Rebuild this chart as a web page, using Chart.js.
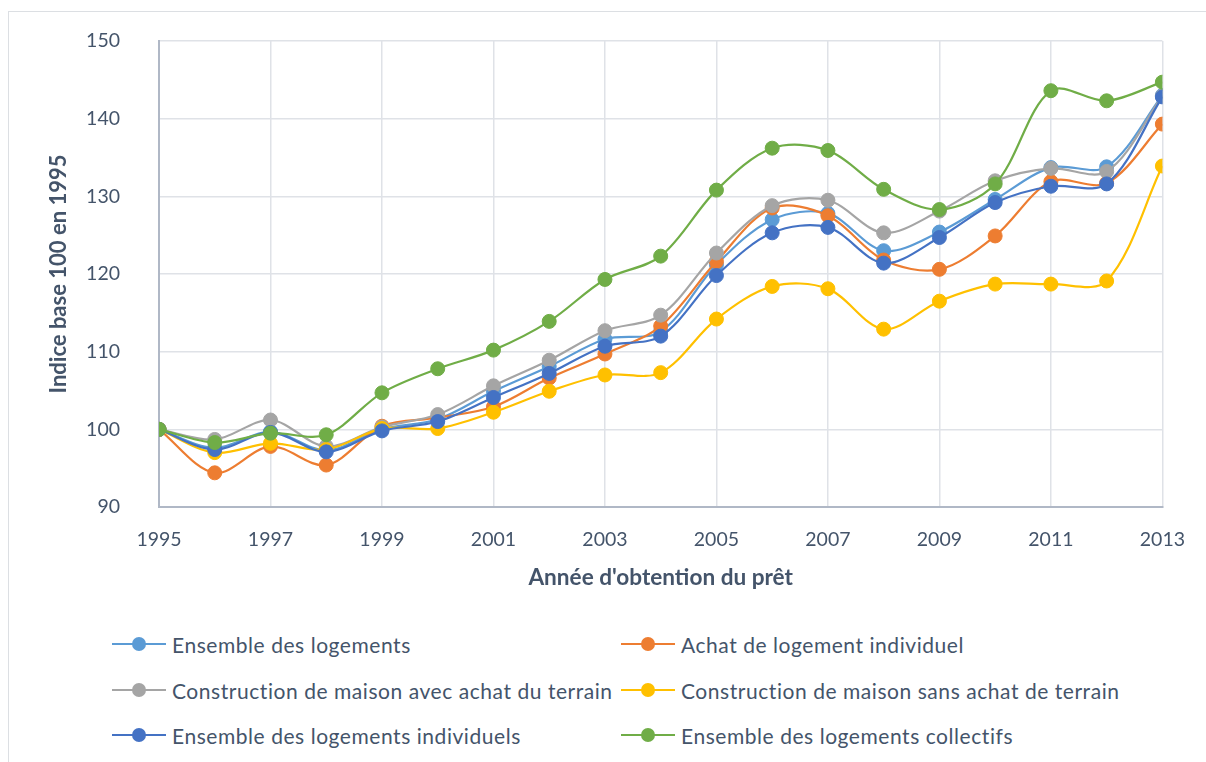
<!DOCTYPE html>
<html lang="fr">
<head>
<meta charset="utf-8">
<title>Indice base 100 en 1995</title>
<script src="https://cdn.jsdelivr.net/npm/chart.js@4"></script>
<style>
    html, body { margin: 0; padding: 0; background: #fff; overflow: hidden; }
    body { width: 1206px; height: 762px; position: relative; font-family: Lato, sans-serif; }
    .frame { position: absolute; left: 8px; top: 11px; width: 1300px; height: 900px; border: 1px solid #dcdfe3; }
    .chart-box { position: absolute; left: 0; top: 0; width: 1206px; height: 600px; }
    .legend { position: absolute; left: 0; top: 0; width: 1206px; }
    .legend-item { position: absolute; height: 24px; display: flex; align-items: center; font-size: 21px; letter-spacing: 0.55px; color: #44546a; white-space: nowrap; }
    .legend-sym { position: relative; width: 54px; height: 24px; margin-right: 6px; }
    .legend-sym .ln { position: absolute; left: 0; right: 0; top: 11px; height: 2px; }
    .legend-sym .dot { position: absolute; left: 20px; top: 5px; width: 14px; height: 14px; border-radius: 50%; }
</style>
</head>
<body>
<div class="frame"></div>
<div class="chart-box"><canvas id="chart"></canvas></div>
<div class="legend" id="legend"></div>
<script>
// données
const years = [1995, 1996, 1997, 1998, 1999, 2000, 2001, 2002, 2003, 2004, 2005, 2006, 2007, 2008, 2009, 2010, 2011, 2012, 2013];

const ensemble = [100, 97.6, 99.7, 97.3, 100.0, 101.3, 104.9, 108.1, 111.6, 112.6, 121.2, 127.0, 127.8, 123.0, 125.4, 129.6, 133.7, 133.8, 143.0];
const achatIndividuel = [100, 94.4, 97.8, 95.4, 100.4, 101.5, 102.9, 106.6, 109.7, 113.3, 121.6, 128.5, 127.5, 121.8, 120.6, 124.9, 131.9, 131.7, 139.3];
const avecTerrain = [100, 98.7, 101.2, 97.8, 100.3, 101.9, 105.6, 108.9, 112.7, 114.7, 122.7, 128.8, 129.5, 125.3, 128.1, 132.0, 133.6, 133.2, 142.9];
const sansTerrain = [100, 97.0, 98.2, 97.4, 100.1, 100.1, 102.2, 104.9, 107.0, 107.3, 114.2, 118.4, 118.1, 112.9, 116.5, 118.7, 118.7, 119.1, 133.9];
const individuels = [100, 97.4, 99.6, 97.1, 99.8, 101.0, 104.1, 107.2, 110.7, 112.0, 119.8, 125.3, 126.0, 121.4, 124.7, 129.2, 131.3, 131.6, 142.8];
const collectifs = [100, 98.3, 99.5, 99.3, 104.7, 107.8, 110.2, 113.9, 119.3, 122.3, 130.8, 136.2, 135.9, 130.9, 128.3, 131.6, 143.6, 142.3, 144.7];

const seriesNames = [
    'Ensemble des logements',
    'Achat de logement individuel',
    'Construction de maison avec achat du terrain',
    'Construction de maison sans achat de terrain',
    'Ensemble des logements individuels',
    'Ensemble des logements collectifs'
];
const seriesValues = [ensemble, achatIndividuel, avecTerrain, sansTerrain, individuels, collectifs];
const seriesColors = ['#5b9bd5', '#ed7d31', '#a5a5a5', '#ffc000', '#4472c4', '#70ad47'];

const yTicks = [90, 100, 110, 120, 130, 140, 150];

const textColor = '#44546a';
const gridColor = '#dfe2e7';
const axisColor = '#b0b8c6';

const datasets = seriesValues.map((vals, i) => ({
    label: seriesNames[i],
    data: vals.map((v, k) => ({ x: years[k], y: v })),
    borderColor: seriesColors[i],
    backgroundColor: seriesColors[i],
    pointBackgroundColor: seriesColors[i],
    pointBorderColor: seriesColors[i],
    borderWidth: 2.2,
    pointRadius: 7,
    pointHoverRadius: 7,
    pointBorderWidth: 1,
    tension: 0.33,
    fill: false,
    // Excel dessine la dernière série au-dessus
    order: seriesValues.length - i
}));

new Chart(document.getElementById('chart'), {
    type: 'line',
    data: { datasets: datasets },
    options: {
        responsive: true,
        maintainAspectRatio: false,
        animation: false,
        events: [],
        layout: { padding: { top: 41, right: 43, left: 0, bottom: 0 } },
        plugins: {
            legend: { display: false },
            tooltip: { enabled: false }
        },
        scales: {
            x: {
                type: 'linear',
                min: years[0],
                max: years[years.length - 1],
                ticks: {
                    stepSize: 2,
                    color: textColor,
                    padding: 21,
                    font: { family: 'Lato', size: 19.5 },
                    callback: v => String(v)
                },
                grid: { color: gridColor, lineWidth: 1.5, drawTicks: false },
                border: { color: axisColor, width: 2 },
                title: {
                    display: true,
                    text: "Année d'obtention du prêt",
                    color: textColor,
                    font: { family: 'Lato', size: 22.6, weight: 'bold' },
                    padding: { top: 0, bottom: 9 }
                },
                afterFit: s => { s.height = 600 - 507; }
            },
            y: {
                min: yTicks[0],
                max: yTicks[yTicks.length - 1],
                afterBuildTicks: s => { s.ticks = yTicks.map(v => ({ value: v })); },
                ticks: {
                    color: textColor,
                    // le padding des ticks s'ajoute aussi en haut de l'axe : on décale plutôt via tickLength
                    padding: 28,
                    font: { family: 'Lato', size: 19.5 }
                },
                grid: { color: gridColor, lineWidth: 1.5, drawTicks: true, tickLength: 11, tickColor: 'rgba(0,0,0,0)' },
                border: { color: axisColor, width: 2 },
                title: {
                    display: true,
                    text: 'Indice base 100 en 1995',
                    color: textColor,
                    font: { family: 'Lato', size: 22, weight: 'bold' },
                    padding: { top: 46, bottom: 0 }
                },
                afterFit: s => { s.width = 159; }
            }
        }
    }
});

// légende sur deux colonnes, comme dans Excel
const legend = document.getElementById('legend');
const colX = [112, 621];
const rowY = [632, 678, 723];
seriesNames.forEach((name, i) => {
    const item = document.createElement('div');
    item.className = 'legend-item';
    item.style.left = colX[i % 2] + 'px';
    item.style.top = rowY[Math.floor(i / 2)] + 'px';
    item.innerHTML = '<span class="legend-sym"><span class="ln" style="background:' + seriesColors[i] +
        '"></span><span class="dot" style="background:' + seriesColors[i] + '"></span></span>';
    item.appendChild(document.createTextNode(name));
    legend.appendChild(item);
});
</script>
</body>
</html>
